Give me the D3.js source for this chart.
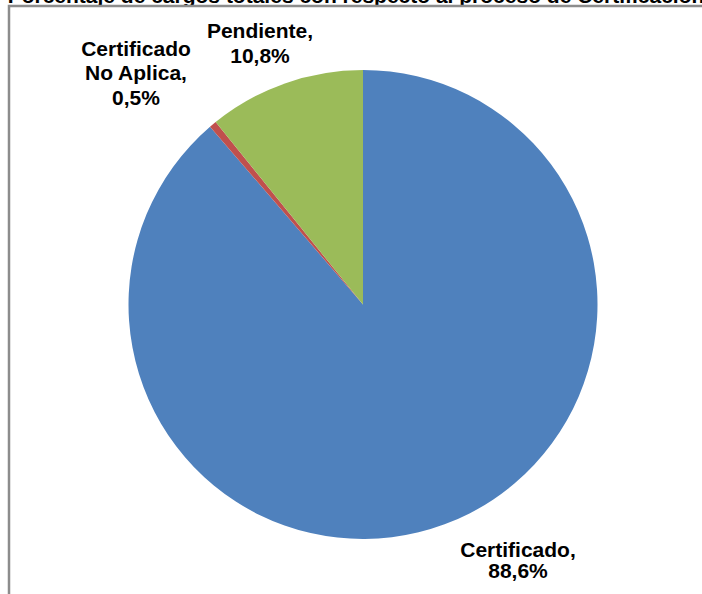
<!DOCTYPE html>
<html><head><meta charset="utf-8">
<script src="https://cdn.jsdelivr.net/npm/d3@7"></script>
<style>body{margin:0;background:#fff}svg{display:block}</style>
</head><body>
<script>
const categories = ["Certificado", "Certificado No Aplica", "Pendiente"];
const values = [88.6, 0.5, 10.8];
const valueLabels = ["88,6%", "0,5%", "10,8%"];
const labelLines = [["Certificado,", "88,6%"], ["Certificado", "No Aplica,", "0,5%"], ["Pendiente,", "10,8%"]];
const colors = ["#4F81BD", "#C0504D", "#9BBB59"];
const title = "Porcentaje de cargos totales con respecto al proceso de Certificación";

const W = 702, H = 594;
const svg = d3.select("body").append("svg").attr("width", W).attr("height", H);
svg.append("rect").attr("width", W).attr("height", H).attr("fill", "#fff");

// cut-off title
svg.append("text").attr("x", 356).attr("y", 3).attr("text-anchor", "middle")
  .attr("font-family", "Liberation Sans, Arial, sans-serif").attr("font-weight", "bold")
  .attr("font-size", 21).attr("fill", "#000").text(title);

// chart frame (left + top visible)
svg.append("path").attr("d", "M9,594 V6 H702").attr("fill", "none")
  .attr("stroke", "#8c8c8c").attr("stroke-width", 2.5);

const cx = 363, cy = 304.5, r = 234.5;
const data = categories.map((c, i) => ({cat: c, value: values[i], idx: i}));
const pie = d3.pie().sort(null).value(d => d.value).startAngle(0).endAngle(2 * Math.PI);
const arc = d3.arc().innerRadius(0).outerRadius(r);
const g = svg.append("g").attr("transform", `translate(${cx},${cy})`);
g.selectAll("path").data(pie(data)).join("path")
  .attr("d", arc).attr("fill", (d, i) => colors[i]);

// labels
const labelPos = [
  {x: 518, ys: [557, 578]},
  {x: 136, ys: [56, 80, 105]},
  {x: 260, ys: [38, 63]}
];
labelLines.forEach((lines, i) => {
  const t = svg.append("text").attr("text-anchor", "middle")
    .attr("font-family", "Liberation Sans, Arial, sans-serif").attr("font-weight", "bold")
    .attr("font-size", 21).attr("fill", "#000");
  lines.forEach((ln, j) => {
    t.append("tspan").attr("x", labelPos[i].x).attr("y", labelPos[i].ys[j]).text(ln);
  });
});
</script>
</body></html>
